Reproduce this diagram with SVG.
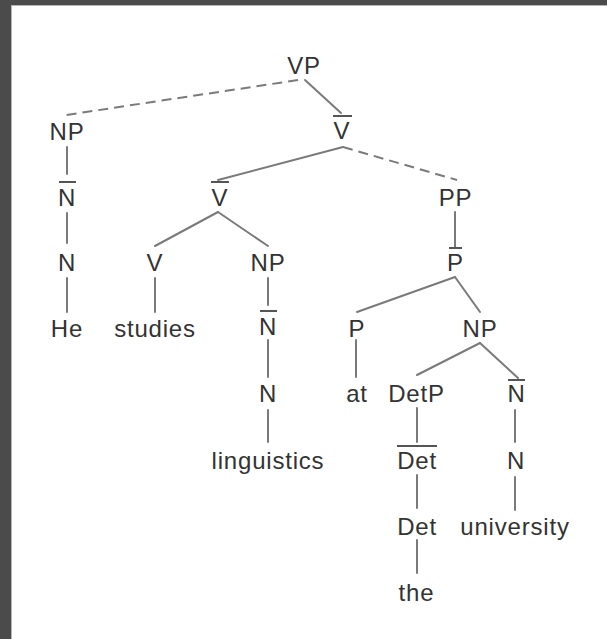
<svg xmlns="http://www.w3.org/2000/svg" width="607" height="639" viewBox="0 0 607 639">
  <style>
    .lbl { font-family: "Liberation Sans", Arial, sans-serif; font-size: 24px; letter-spacing: 0.8px; fill: #333; text-anchor: middle; }
    .bar { stroke: #555; stroke-width: 2; }
    .edge { stroke: #7a7a7a; stroke-width: 2; fill: none; stroke-linecap: round; }
    .dash { stroke-dasharray: 10 6; stroke-linecap: butt; }
  </style>

  <!-- frame -->
  <rect x="0" y="0" width="607" height="639" fill="#4b4b4b"/>
  <rect x="11" y="5" width="596" height="634" fill="#b5b5b5"/>
  <rect x="12" y="6" width="595" height="633" fill="#ffffff"/>

  <!-- connectors -->
  <g id="connectors">
    <line class="edge dash" x1="298" y1="80" x2="66" y2="115"/>
    <line class="edge" x1="305" y1="80" x2="341" y2="113"/>
    <line class="edge" x1="343" y1="147" x2="218" y2="180"/>
    <line class="edge dash" x1="343" y1="147" x2="457" y2="180"/>
    <line class="edge" x1="67" y1="147" x2="67" y2="174"/>
    <line class="edge" x1="67" y1="213" x2="67" y2="243"/>
    <line class="edge" x1="67" y1="278" x2="67" y2="312"/>
    <line class="edge" x1="218" y1="212" x2="155" y2="246"/>
    <line class="edge" x1="218" y1="212" x2="268" y2="246"/>
    <line class="edge" x1="455" y1="212" x2="455" y2="248"/>
    <line class="edge" x1="155" y1="278" x2="155" y2="312"/>
    <line class="edge" x1="268" y1="278" x2="268" y2="305"/>
    <line class="edge" x1="455" y1="277" x2="357" y2="312"/>
    <line class="edge" x1="455" y1="277" x2="480" y2="312"/>
    <line class="edge" x1="268" y1="340" x2="268" y2="377"/>
    <line class="edge" x1="356" y1="340" x2="356" y2="377"/>
    <line class="edge" x1="480" y1="343" x2="417" y2="375"/>
    <line class="edge" x1="480" y1="343" x2="518" y2="378"/>
    <line class="edge" x1="268" y1="410" x2="268" y2="442"/>
    <line class="edge" x1="417" y1="408" x2="417" y2="442"/>
    <line class="edge" x1="515" y1="410" x2="515" y2="442"/>
    <line class="edge" x1="417" y1="475" x2="417" y2="508"/>
    <line class="edge" x1="515" y1="477" x2="515" y2="510"/>
    <line class="edge" x1="417" y1="540" x2="417" y2="573"/>
  </g>

  <!-- nodes -->
  <g id="vp"><text class="lbl" x="304" y="74">VP</text></g>
  <g id="np1"><text class="lbl" x="67" y="140">NP</text></g>
  <g id="vbar1"><line class="bar" x1="333" y1="116" x2="352" y2="116"/><text class="lbl" x="342" y="139">V</text></g>
  <g id="nbar1"><line class="bar" x1="59" y1="182" x2="76" y2="182"/><text class="lbl" x="67" y="205.5">N</text></g>
  <g id="vbar2"><line class="bar" x1="211" y1="182" x2="229" y2="182"/><text class="lbl" x="220" y="205.5">V</text></g>
  <g id="pp"><text class="lbl" x="455.5" y="205.5">PP</text></g>
  <g id="n1"><text class="lbl" x="67" y="271">N</text></g>
  <g id="v"><text class="lbl" x="155" y="271">V</text></g>
  <g id="np2"><text class="lbl" x="268" y="271">NP</text></g>
  <g id="pbar"><line class="bar" x1="449" y1="248" x2="462" y2="248"/><text class="lbl" x="455.5" y="271">P</text></g>
  <g id="he"><text class="lbl" x="67" y="337">He</text></g>
  <g id="studies"><text class="lbl" x="155" y="337">studies</text></g>
  <g id="nbar2"><line class="bar" x1="260" y1="311" x2="277" y2="311"/><text class="lbl" x="268" y="335">N</text></g>
  <g id="p"><text class="lbl" x="357" y="337">P</text></g>
  <g id="np3"><text class="lbl" x="480" y="337">NP</text></g>
  <g id="n2"><text class="lbl" x="268" y="402">N</text></g>
  <g id="at"><text class="lbl" x="357" y="402">at</text></g>
  <g id="detp"><text class="lbl" x="416.5" y="402">DetP</text></g>
  <g id="nbar3"><line class="bar" x1="508" y1="380" x2="525" y2="380"/><text class="lbl" x="516.5" y="402">N</text></g>
  <g id="linguistics"><text class="lbl" x="268" y="468.5">linguistics</text></g>
  <g id="detbar"><line class="bar" x1="397" y1="446" x2="437" y2="446"/><text class="lbl" x="417" y="468.5">Det</text></g>
  <g id="n3"><text class="lbl" x="516" y="468.5">N</text></g>
  <g id="det"><text class="lbl" x="417" y="534.5">Det</text></g>
  <g id="university"><text class="lbl" x="515" y="534.5">university</text></g>
  <g id="the"><text class="lbl" x="416.5" y="600.5">the</text></g>
</svg>
